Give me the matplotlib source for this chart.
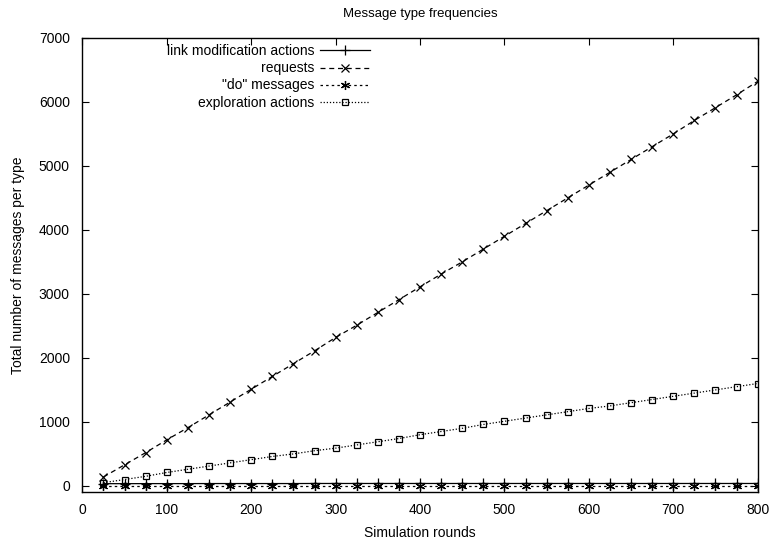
import matplotlib.pyplot as plt

plt.rcParams['font.family'] = ['Liberation Sans', 'DejaVu Sans']

rounds = list(range(25, 801, 25))

link_mod = [35, 35, 36, 36, 36, 37, 37, 37, 37, 37, 38, 38, 38, 38, 38, 38,
            38, 38, 38, 38, 38, 38, 38, 38, 38, 38, 38, 38, 38, 38, 38, 38]
requests = [140, 330, 520, 720, 910, 1110, 1310, 1510, 1710, 1910, 2110, 2320,
            2510, 2710, 2910, 3110, 3310, 3500, 3700, 3900, 4100, 4300, 4500, 4700,
            4900, 5100, 5300, 5500, 5710, 5910, 6110, 6320]
do_msgs = [3, 3, 3, 3, 3, 3, 3, 3, 3, 3, 3, 3, 3, 3, 3, 3,
           3, 3, 3, 3, 3, 3, 3, 3, 3, 3, 3, 3, 3, 3, 3, 3]
exploration = [50, 100, 150, 210, 260, 310, 360, 410, 460, 500, 550, 590,
               640, 690, 740, 800, 850, 900, 960, 1010, 1060, 1110, 1160, 1210,
               1250, 1300, 1350, 1400, 1450, 1500, 1550, 1600]

fig, ax = plt.subplots(figsize=(7.7, 5.41), dpi=100)
fig.subplots_adjust(left=0.107, right=0.984, top=0.93, bottom=0.09)

ax.plot(rounds, link_mod, color='black', lw=0.9, marker='+', ms=6.5, mew=0.9,
        label='link modification actions')
ax.plot(rounds, requests, color='black', lw=0.9, ls=(0, (4, 3)), marker='x', ms=5.5, mew=0.9,
        label='requests')
ax.plot(rounds, do_msgs, color='black', lw=0.9, ls=(0, (2, 2.5)), marker=(6, 2, 0), ms=6.5, mew=0.9,
        label='"do" messages')
ax.plot(rounds, exploration, color='black', lw=0.9, ls=(0, (1, 1.5)), marker='s', ms=5, mew=0.9,
        mfc='none', label='exploration actions')

ax.set_xlim(0, 800)
ax.set_ylim(-100, 7000)
ax.set_xticks(range(0, 801, 100))
ax.set_yticks(range(0, 7001, 1000))
ax.tick_params(direction='in', top=True, right=True, length=5, labelsize=10)
ax.tick_params(axis='y', pad=9)
ax.tick_params(axis='x', pad=8)
for s in ax.spines.values():
    s.set_linewidth(1.0)

ax.set_title('Message type frequencies', fontsize=9.5, pad=15)
ax.set_xlabel('Simulation rounds', fontsize=10, labelpad=6)
ax.set_ylabel('Total number of messages per type', fontsize=10, labelpad=10)

ax.legend(loc='upper right', bbox_to_anchor=(0.434, 0.998), frameon=False, markerfirst=False,
          fontsize=10, handlelength=3.6, handletextpad=0.4, labelspacing=0.22, borderaxespad=0)
leg = ax.get_legend()
for t in leg.get_texts():
    t.set_ha('right')
leg._legend_box.align = 'right'

fig.savefig('out.png')
